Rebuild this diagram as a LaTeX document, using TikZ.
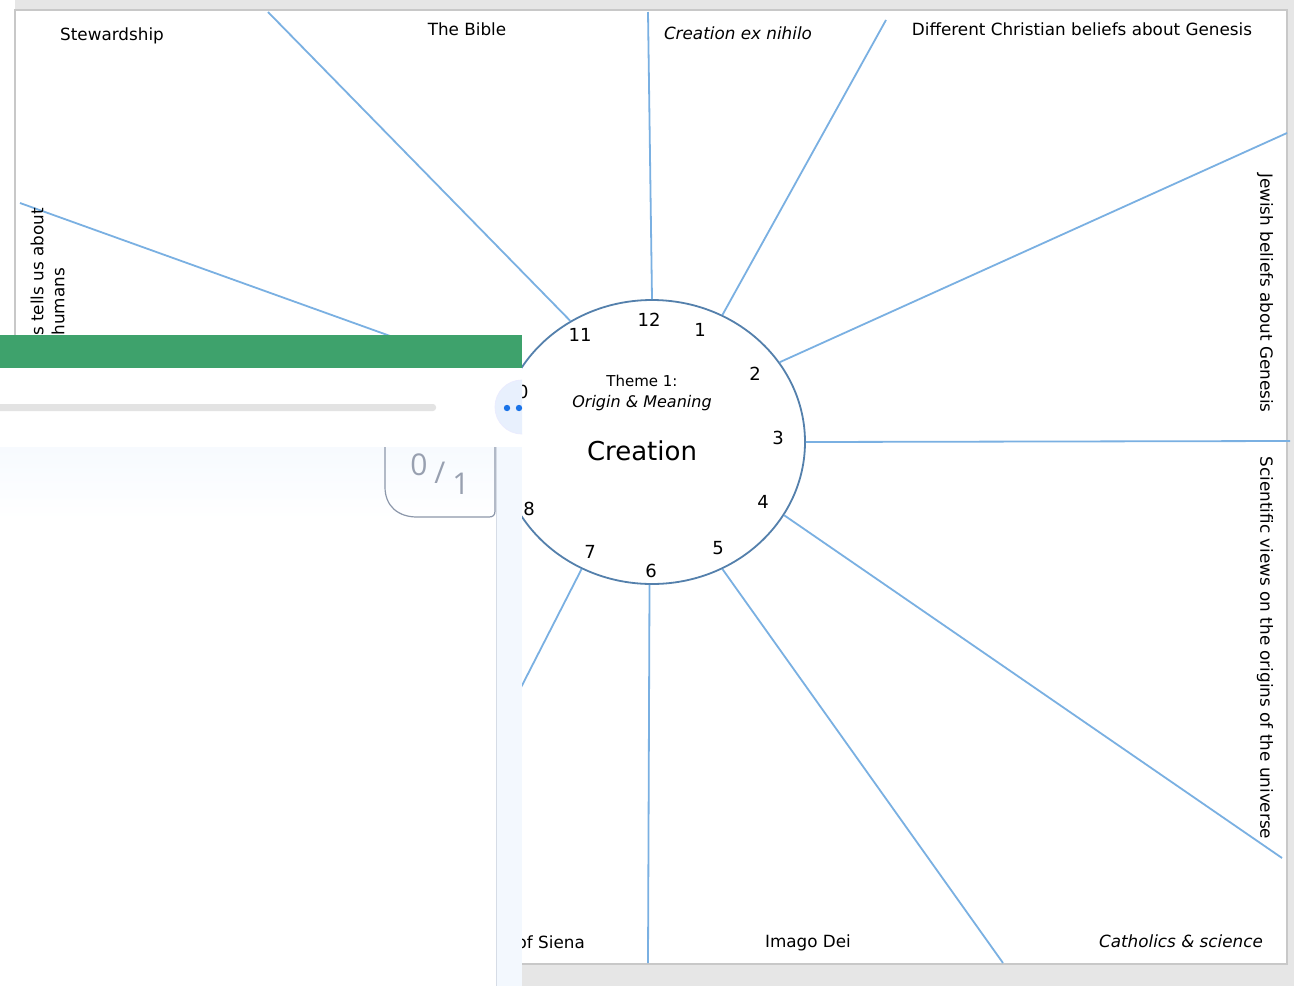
\documentclass[tikz,border=0pt]{standalone}
\usepackage{fontspec}
\setmainfont{DejaVu Sans}
\newfontfamily\uifont{Open Sans}
\usetikzlibrary{shapes.geometric}

\definecolor{spoke}{RGB}{122,176,226}
\definecolor{rim}{RGB}{84,128,172}
\definecolor{pagegray}{RGB}{230,230,230}
\definecolor{edgegray}{RGB}{200,200,200}
\definecolor{bargreen}{RGB}{62,162,108}
\definecolor{bargray}{RGB}{227,227,227}
\definecolor{panelblue}{RGB}{243,248,254}
\definecolor{panelline}{RGB}{214,220,230}
\definecolor{btnblue}{RGB}{232,240,253}
\definecolor{dotblue}{RGB}{26,115,232}
\definecolor{boxgray}{RGB}{140,151,170}
\definecolor{scoregray}{RGB}{152,160,176}

\tikzset{
  topic/.style={font=\fontsize{16.8}{19}\selectfont, inner sep=0pt},
  slanted/.style={font=\fontsize{16.8}{19}\selectfont\itshape, inner sep=0pt},
  hour/.style={font=\fontsize{18}{20}\selectfont, inner sep=0pt},
  spokeline/.style={draw=spoke, line width=1.8pt},
  score/.style={font=\uifont\fontsize{30}{32}\selectfont, text=scoregray, inner sep=0pt}
}

\begin{document}
\begin{tikzpicture}[x=1pt,y=-1pt]
    \useasboundingbox (0,0) rectangle (1294,986);
    \fill[white] (0,0) rectangle (1294,986);
    \fill[pagegray] (15,0) rectangle (1294,986);
    \draw[edgegray, fill=white, line width=1.5pt] (15,10) rectangle (1287,964);

    \node[ellipse, draw=rim, line width=1.8pt, minimum width=306pt, minimum height=284pt, inner sep=0pt] (clock) at (652,442) {};

    \coordinate (e12) at (648,12);
    \coordinate (e1) at (886,20);
    \coordinate (e2) at (1287,133);
    \coordinate (e3) at (1290,441);
    \coordinate (e4) at (1282,858);
    \coordinate (e5) at (1003,963);
    \coordinate (e6) at (648,963);
    \coordinate (e7) at (512,705);
    \coordinate (e10) at (20,203);
    \coordinate (e11) at (268,12);

    \draw[spokeline] (clock.90) -- (e12);
    \draw[spokeline] (clock.61) -- (e1);
    \draw[spokeline] (clock.32) -- (e2);
    \draw[spokeline] (clock.0) -- (e3);
    \draw[spokeline] (clock.-29) -- (e4);
    \draw[spokeline] (clock.-61) -- (e5);
    \draw[spokeline] (clock.-91.5) -- (e6);
    \draw[spokeline] (clock.-119) -- (e7);
    \draw[spokeline] (clock.156.5) -- (e10);
    \draw[spokeline] (clock.124.5) -- (e11);

    \node[hour] (h12) at (649,320) {12};
    \node[hour] (h1) at (700,330) {1};
    \node[hour] (h2) at (755,374) {2};
    \node[hour] (h3) at (778,438) {3};
    \node[hour] (h4) at (763,502) {4};
    \node[hour] (h5) at (718,548) {5};
    \node[hour] (h6) at (651,571) {6};
    \node[hour] (h7) at (590,552) {7};
    \node[hour] (h8) at (529,509) {8};
    \node[hour] (h10) at (517,392) {10};
    \node[hour] (h11) at (580,335) {11};

    \node[topic, font=\fontsize{15}{17}\selectfont] (theme) at (642,381) {Theme 1:};
    \node[slanted, font=\fontsize{16}{18}\selectfont\itshape] (origin) at (642,403) {Origin \& Meaning};
    \node[inner sep=0pt, font=\fontsize{26}{30}\selectfont] (title) at (642,451) {Creation};

    \node[topic] (stew) at (112,36) {Stewardship};
    \node[topic] (bible) at (467,29) {The Bible};
    \node[slanted] (exnihilo) at (738,33) {Creation ex nihilo};
    \node[topic] (christian) at (1082,29) {Different Christian beliefs about Genesis};
    \node[topic, rotate=-90] (jewish) at (1265,293) {Jewish beliefs about Genesis};
    \node[topic, rotate=-90] (science) at (1265,648) {Scientific views on the origins of the universe};
    \node[topic, rotate=90, anchor=east] (tells) at (37,208) {s tells us about};
    \node[topic, rotate=90, anchor=east] (humans) at (58,268) {humans};
    \node[topic, anchor=east] (siena) at (585,942) {of Siena};
    \node[topic] (imago) at (808,943) {Imago Dei};
    \node[slanted] (catholics) at (1181,941) {Catholics \& science};

    \fill[white] (0,335) rectangle (522,986);
    \fill[bargreen] (0,335) rectangle (522,368);
    \fill[bargray, rounded corners=3pt] (-10,404) rectangle (436,411);
    \shade[top color=panelblue!70, bottom color=white] (0,447) rectangle (496,520);
    \fill[panelblue] (496,447) rectangle (522,986);
    \draw[panelline, line width=1pt] (496,447) -- (496,986);
    \begin{scope}
        \clip (0,368) rectangle (522,447);
        \draw[btnblue!80!blue!30, fill=btnblue, line width=0.8pt] (522,407) circle (27);
        \fill[dotblue] (507,408) circle (3.2);
        \fill[dotblue] (519,408) circle (3.2);
    \end{scope}
    \draw[boxgray, line width=1.2pt] (385,447) -- (385,487) .. controls (385,506) and (398,517) .. (417,517) -- (489,517) .. controls (493,517) and (495,515) .. (495,511) -- (495,447);
    \node[score] (got) at (419,465) {0};
    \node[score] (slash) at (440,473) {/};
    \node[score] (outof) at (461,484) {1};
\end{tikzpicture}
\end{document}
